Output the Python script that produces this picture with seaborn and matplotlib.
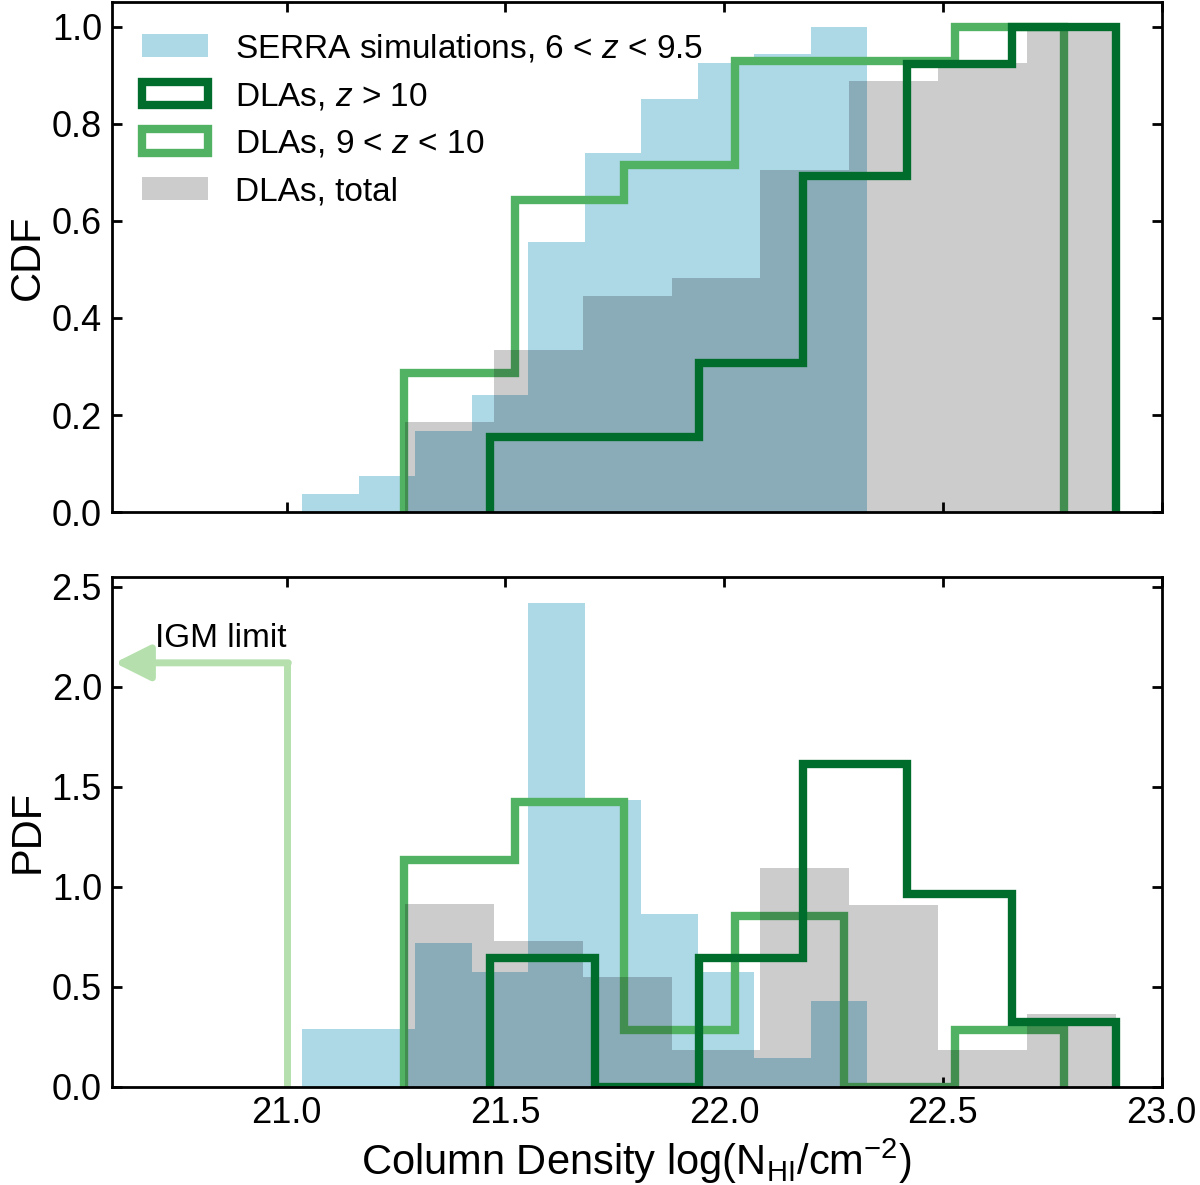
import numpy as np
import pandas as pd
import matplotlib
matplotlib.use("Agg")
import matplotlib.pyplot as plt
import matplotlib.patches as mpatches
from matplotlib.ticker import MultipleLocator, FormatStrFormatter
import seaborn as sns

# bin edges in log(N_HI) and counts per bin
serra_edges = [21.036, 21.165, 21.294, 21.423, 21.552, 21.682, 21.811, 21.940, 22.069, 22.198, 22.327]
serra_counts = [2, 2, 5, 4, 17, 10, 6, 4, 1, 3]

total_edges = [21.270, 21.473, 21.677, 21.880, 22.083, 22.286, 22.490, 22.693, 22.896]
total_counts = [5, 4, 3, 1, 6, 5, 1, 2]

z10_edges = [21.465, 21.704, 21.942, 22.181, 22.419, 22.658, 22.896]
z10_counts = [2, 0, 2, 5, 3, 1]

z9_edges = [21.269, 21.521, 21.772, 22.024, 22.275, 22.527, 22.778]
z9_counts = [4, 5, 1, 3, 0, 1]

igm_limit = 21.0
igm_arrow_y = 2.12

c_serra = "#add8e6"
c_z10 = "#006d2c"
c_z9 = "#52b264"
c_igm = "#b5e0ad"

sns.set_style("ticks", rc={
    "axes.edgecolor": "black", "text.color": "black", "axes.labelcolor": "black",
    "xtick.color": "black", "ytick.color": "black",
    "xtick.direction": "in", "ytick.direction": "in",
    "xtick.top": True, "ytick.right": True,
})
plt.rcParams["font.family"] = ["Liberation Sans", "DejaVu Sans"]
plt.rcParams.update({
    "mathtext.fontset": "custom",
    "mathtext.rm": "Liberation Sans",
    "mathtext.it": "Liberation Sans:italic",
    "mathtext.bf": "Liberation Sans:bold",
    "xtick.labelsize": 13, "ytick.labelsize": 13,
    "axes.labelsize": 15, "axes.linewidth": 1.0,
    "xtick.major.width": 1.0, "ytick.major.width": 1.0,
    "xtick.major.size": 3.5, "ytick.major.size": 3.5,
})


def binned(edges, counts):
    e = np.asarray(edges)
    return pd.DataFrame({"logN": (e[:-1] + e[1:]) / 2, "n": counts})


def bars(ax, edges, counts, cum, color, alpha, z):
    sns.histplot(data=binned(edges, counts), x="logN", weights="n", bins=list(edges),
                 stat="density", cumulative=cum, element="bars", fill=True,
                 color=color, alpha=alpha, linewidth=0, edgecolor="none", zorder=z, ax=ax)


def step(ax, edges, counts, cum, color, z):
    sns.histplot(data=binned(edges, counts), x="logN", weights="n", bins=list(edges),
                 stat="density", cumulative=cum, element="step", fill=False,
                 color=color, linewidth=3, solid_joinstyle="miter", zorder=z, ax=ax)
    # close the outline down to zero at both ends, like a step histogram
    line = ax.lines[-1]
    xy = line.get_xydata()
    x = np.r_[xy[0, 0], xy[:, 0], xy[-1, 0]]
    y = np.r_[0, xy[:, 1], 0]
    line.set_data(x, y)


fig, (ax1, ax2) = plt.subplots(2, 1, figsize=(6, 5.925), dpi=200, sharex=True)
fig.subplots_adjust(left=0.093, right=0.968, top=0.998, bottom=0.083, hspace=0.127)

for ax, cum in [(ax1, True), (ax2, False)]:
    bars(ax, serra_edges, serra_counts, cum, c_serra, 1.0, 1)
    step(ax, z9_edges, z9_counts, cum, c_z9, 1.5)
    bars(ax, total_edges, total_counts, cum, "black", 0.2, 1.7)
    step(ax, z10_edges, z10_counts, cum, c_z10, 2)

# IGM limit marker
ax2.plot([igm_limit, igm_limit], [0, igm_arrow_y], color=c_igm, lw=2.5, solid_capstyle="butt")
ax2.annotate("", xy=(20.607, igm_arrow_y), xytext=(igm_limit + 0.004, igm_arrow_y),
             arrowprops=dict(arrowstyle="-|>,head_width=0.45,head_length=0.9",
                             color=c_igm, lw=2.5, shrinkA=0, shrinkB=0, mutation_scale=12))
ax2.text(20.85, 2.20, "IGM limit", ha="center", va="baseline", fontsize=12)

ax1.set_xlim(20.6, 23.0)
ax1.set_ylim(0, 1.05)
ax2.set_ylim(0, 2.55)
ax1.xaxis.set_major_locator(MultipleLocator(0.5))
ax2.xaxis.set_major_formatter(FormatStrFormatter("%.1f"))
ax1.yaxis.set_major_locator(MultipleLocator(0.2))
ax2.yaxis.set_major_locator(MultipleLocator(0.5))
for ax in (ax1, ax2):
    ax.yaxis.set_major_formatter(FormatStrFormatter("%.1f"))
    ax.tick_params(which="both", direction="in", top=True, right=True)

ax1.set_ylabel("CDF")
ax2.set_ylabel("PDF")
ax1.yaxis.set_label_coords(-0.061, 0.5)
ax2.yaxis.set_label_coords(-0.061, 0.5)
ax1.set_xlabel("")
ax2.set_xlabel(r"Column Density log(N$_{\rm HI}$/cm$^{-2}$)", labelpad=2)

handles = [
    mpatches.Patch(facecolor=c_serra, edgecolor="none", label=r"SERRA simulations, 6 < $z$ < 9.5"),
    mpatches.Patch(facecolor="none", edgecolor=c_z10, lw=3, label=r"DLAs, $z$ > 10"),
    mpatches.Patch(facecolor="none", edgecolor=c_z9, lw=3, label=r"DLAs, 9 < $z$ < 10"),
    mpatches.Patch(facecolor="black", alpha=0.2, edgecolor="none", label="DLAs, total"),
]
ax1.legend(handles=handles, loc="upper left", frameon=False, fontsize=12)

fig.savefig("out.png", dpi=200)
